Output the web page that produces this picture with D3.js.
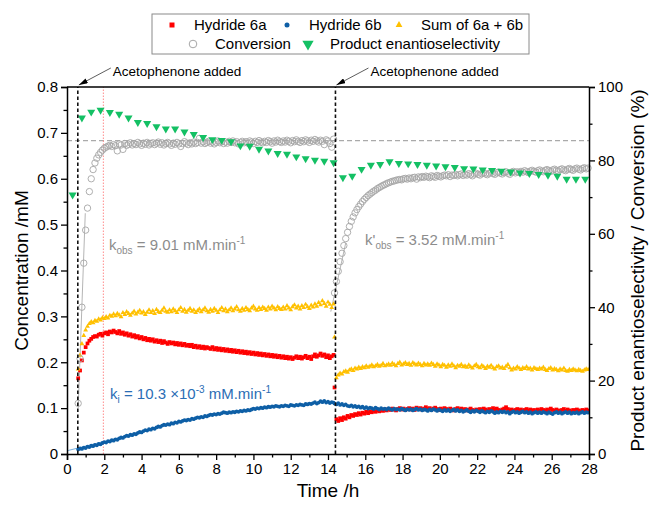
<!DOCTYPE html>
<html>
<head>
<meta charset="utf-8">
<script src="https://cdn.jsdelivr.net/npm/d3@7"></script>
<style>
  body { margin: 0; background: #fff; }
  text { font-family: Arial, "Liberation Sans", sans-serif; }
</style>
</head>
<body>
<svg id="chart" width="651" height="510"></svg>
<script>
////////////////////////////////////////////////////////////////
// Data
// hydride concentrations in mM, conversion / ee in %

// sampling: phase 1 from 0.6 h, phase 2 from 14.35 h, every 0.1 h
let phase1Start = 0.6, phase2Start = 14.35, sampleStep = 0.1;

let hydride6a_1 = [
  .165,.182,.204,.221,.233,.241,.247,.251,.255,.257,
  .256,.260,.262,.258,.263,.265,.261,.267,.265,.269,
  .266,.263,.268,.262,.265,.260,.263,.258,.261,.256,
  .259,.254,.257,.252,.255,.250,.253,.248,.251,.247,
  .250,.245,.248,.244,.247,.242,.246,.243,.240,.244,
  .241,.243,.239,.242,.238,.241,.237,.240,.236,.238,
  .235,.238,.233,.236,.232,.235,.231,.234,.230,.233,
  .231,.229,.233,.228,.231,.227,.230,.226,.229,.225,
  .228,.224,.227,.223,.226,.222,.225,.221,.224,.220,
  .223,.219,.222,.218,.221,.217,.220,.216,.219,.215,
  .218,.214,.217,.213,.216,.212,.215,.211,.214,.210,
  .213,.209,.212,.208,.211,.207,.210,.213,.209,.212,
  .208,.211,.214,.209,.212,.207,.213,.217,.212,.215,
  .219,.214,.217,.211,.215,.209,.213,.216];
let hydride6a_2 = [
  .145,.076,.072,.078,.074,.080,.077,.083,.080,.085,
  .083,.087,.085,.089,.086,.090,.088,.092,.089,.093,
  .091,.094,.092,.095,.093,.096,.094,.097,.095,.098,
  .096,.099,.097,.095,.098,.100,.097,.099,.096,.098,
  .100,.097,.099,.096,.101,.098,.100,.097,.099,.102,
  .098,.100,.097,.099,.101,.098,.096,.099,.097,.100,
  .098,.096,.099,.097,.095,.098,.100,.097,.099,.096,
  .098,.095,.097,.099,.096,.094,.097,.095,.098,.096,
  .099,.097,.095,.098,.096,.100,.097,.099,.096,.094,
  .097,.099,.102,.098,.095,.097,.094,.096,.098,.095,
  .097,.093,.096,.098,.095,.097,.094,.096,.093,.097,
  .095,.098,.096,.094,.097,.095,.099,.096,.094,.097,
  .095,.093,.096,.098,.094,.097,.095,.093,.096,.094,
  .097,.095,.093,.096,.094,.097,.095];

let hydride6b_1 = [
  .010,.012,.011,.014,.013,.016,.015,.018,.017,.020,
  .019,.022,.021,.024,.026,.025,.028,.027,.030,.029,
  .032,.031,.034,.036,.035,.038,.040,.039,.042,.041,
  .044,.043,.046,.048,.047,.050,.052,.051,.054,.053,
  .056,.055,.058,.060,.059,.062,.064,.063,.065,.064,
  .067,.066,.069,.068,.071,.070,.072,.074,.073,.075,
  .074,.077,.076,.078,.080,.079,.081,.080,.083,.082,
  .084,.086,.085,.087,.086,.088,.087,.089,.091,.090,
  .089,.091,.090,.092,.091,.093,.092,.094,.093,.095,
  .094,.096,.095,.097,.099,.098,.100,.099,.101,.100,
  .102,.101,.103,.102,.104,.103,.105,.104,.103,.105,
  .104,.106,.105,.104,.107,.106,.105,.107,.106,.108,
  .107,.106,.109,.108,.110,.109,.111,.113,.110,.112,
  .115,.113,.116,.112,.114,.111,.113,.112];
let hydride6b_2 = [
  .110,.108,.111,.107,.109,.106,.108,.105,.104,.106,
  .103,.105,.102,.104,.101,.103,.100,.102,.099,.101,
  .100,.098,.101,.099,.097,.100,.098,.099,.097,.100,
  .098,.096,.099,.097,.098,.096,.099,.097,.095,.098,
  .096,.098,.095,.097,.099,.096,.098,.095,.097,.096,
  .094,.097,.095,.098,.096,.094,.097,.095,.093,.096,
  .094,.096,.093,.095,.097,.094,.096,.093,.095,.092,
  .094,.096,.093,.091,.094,.092,.095,.093,.091,.094,
  .092,.090,.093,.091,.094,.092,.089,.092,.090,.093,
  .091,.093,.090,.092,.088,.091,.093,.090,.092,.089,
  .091,.093,.090,.092,.089,.091,.088,.090,.092,.089,
  .091,.089,.092,.090,.088,.091,.089,.087,.090,.092,
  .089,.091,.088,.090,.092,.089,.091,.088,.090,.089,
  .091,.088,.090,.092,.089,.091,.090];

let sum_1 = [
  .185,.215,.240,.258,.270,.278,.284,.288,.286,.291,
  .289,.294,.292,.297,.295,.299,.296,.302,.300,.305,
  .301,.306,.303,.299,.308,.304,.310,.306,.302,.307,
  .311,.305,.309,.313,.307,.310,.304,.309,.314,.308,
  .312,.306,.315,.310,.308,.313,.318,.311,.309,.314,
  .310,.316,.312,.308,.314,.319,.311,.315,.309,.313,
  .317,.311,.314,.308,.312,.316,.310,.314,.318,.312,
  .309,.315,.311,.317,.313,.308,.314,.319,.312,.316,
  .310,.314,.318,.312,.316,.321,.314,.311,.317,.313,
  .319,.315,.312,.318,.322,.316,.313,.319,.315,.320,
  .317,.313,.320,.316,.322,.318,.314,.321,.317,.315,
  .320,.316,.323,.318,.314,.321,.325,.318,.322,.316,
  .323,.319,.326,.321,.317,.324,.320,.327,.322,.330,
  .325,.334,.328,.322,.331,.326,.319,.327];
let sum_2 = [
  .255,.166,.172,.176,.174,.179,.181,.178,.183,.185,
  .182,.187,.185,.189,.186,.190,.188,.192,.189,.191,
  .194,.190,.192,.195,.191,.193,.197,.192,.194,.196,
  .193,.198,.195,.192,.197,.200,.194,.196,.199,.195,
  .197,.193,.199,.196,.194,.198,.195,.192,.197,.194,
  .196,.193,.198,.195,.191,.196,.194,.190,.195,.193,
  .189,.194,.191,.196,.192,.188,.193,.191,.195,.190,
  .192,.189,.194,.190,.187,.192,.195,.190,.188,.193,
  .190,.186,.191,.189,.193,.188,.185,.190,.192,.187,
  .189,.186,.191,.195,.188,.183,.187,.185,.190,.187,
  .184,.188,.186,.190,.185,.187,.183,.188,.186,.184,
  .187,.185,.189,.184,.182,.186,.188,.183,.186,.184,
  .181,.185,.183,.187,.182,.180,.184,.182,.185,.183,
  .181,.184,.182,.180,.183,.185,.184];

let conversion_1 = [
  13.8,26.0,40.0,52.0,61.0,67.0,71.5,75.0,77.5,79.3,
  80.6,81.5,82.2,82.8,83.3,83.6,83.9,84.1,83.8,84.3,
  84.0,82.6,84.5,84.2,83.0,84.6,84.1,84.4,84.8,84.2,
  84.6,84.3,84.9,84.5,84.1,84.7,84.4,84.9,84.2,84.6,
  84.8,84.3,84.7,85.0,84.4,84.8,84.2,84.6,84.9,84.5,
  84.1,84.7,84.4,84.9,84.5,83.8,84.6,85.1,84.7,84.3,
  84.8,84.5,85.0,84.6,84.9,86.0,84.7,85.1,84.6,84.9,
  85.2,84.7,85.0,84.5,84.9,85.3,84.8,85.1,84.6,85.0,
  84.7,85.2,84.9,85.3,84.8,85.1,84.5,84.9,85.2,84.8,
  85.1,84.7,85.3,85.0,84.6,85.2,84.9,85.4,85.0,84.8,
  85.2,84.9,85.4,85.1,84.7,85.3,85.0,85.5,85.1,84.9,
  85.3,85.0,85.5,85.2,84.8,85.4,85.1,85.6,85.2,84.9,
  85.4,85.1,85.6,85.3,84.9,85.5,85.2,85.7,85.3,85.0,
  85.5,85.2,84.3,85.6,85.3,84.6,83.6,85.8];
let conversion_2 = [
  43.9,47.0,49.8,52.4,54.7,56.8,58.7,60.4,62.0,63.4,
  64.6,65.7,66.6,67.4,68.1,68.8,69.4,69.9,70.4,70.8,
  71.2,71.6,71.9,72.3,72.6,72.9,73.2,73.4,73.7,73.9,
  74.1,74.3,74.4,74.6,74.7,74.8,74.7,75.0,75.1,74.9,
  75.2,75.0,75.3,75.4,74.9,75.5,75.3,75.6,75.4,75.7,
  75.5,75.3,75.8,75.6,75.4,75.9,75.7,75.5,75.8,76.0,
  75.8,76.1,75.6,76.0,75.9,76.2,75.8,76.1,76.3,75.9,
  76.2,76.0,76.4,76.1,75.8,76.3,76.5,76.2,76.0,76.4,
  76.6,76.3,76.1,76.5,76.7,76.4,76.2,76.6,76.8,76.5,
  76.3,76.7,76.9,76.5,76.2,76.8,77.0,76.6,76.9,76.7,
  77.0,76.8,77.2,76.9,76.7,77.1,77.3,77.0,76.8,77.2,
  77.4,77.1,76.9,77.3,77.5,77.2,77.0,77.4,77.6,77.3,
  77.1,77.5,77.7,77.4,77.2,77.6,77.8,77.5,77.3,77.7,
  77.9,77.6,77.4,77.8,78.0,77.7,77.9];

// product ee, every 0.5 h from 0.3 h
let eeTime = [0.3,0.8,1.3,1.8,2.3,2.8,3.3,3.8,4.3,4.8,5.3,5.8,6.3,6.8,7.3,7.8,8.3,8.8,9.3,9.8,
  10.3,10.8,11.3,11.8,12.3,12.8,13.3,13.8,14.3,
  14.8,15.3,15.8,16.3,16.8,17.3,17.8,18.3,18.8,19.3,19.8,20.3,20.8,21.3,21.8,22.3,22.8,
  23.3,23.8,24.3,24.8,25.3,25.8,26.3,26.8,27.3,27.8];
let eeValue = [70.6,91.6,93.2,93.7,93.1,92.6,91.6,90.4,90.1,89.2,88.6,88.6,87.8,87.1,86.3,85.7,
  85.5,85.1,84.0,83.9,83.1,82.6,81.9,81.7,81.0,80.5,80.1,79.8,79.4,
  75.3,75.7,77.6,78.7,78.9,79.7,79.2,79.1,78.9,78.7,78.5,78.3,78.1,77.8,77.7,77.4,77.3,
  77.1,76.9,76.6,76.5,76.2,76.0,75.7,74.9,74.9,74.9];

// fits, reference lines and events
let kobsFit1 = [[0.6, 12.5], [0.98, 65.6]];      // conversion %
let kobsFit2 = [[14.15, 38.8], [14.95, 57.5]];   // conversion %
let kiFit = [[0, 0.007], [7.9, 0.088]];          // mM
let additionTimes = [0.58, 14.4];
let fitEndTime = 1.95;
let plateauConversion = 85.4;

let xTicks = d3.range(0, 29, 2);
let xMinor = d3.range(1, 28, 2);
let yTicks = [0, 0.1, 0.2, 0.3, 0.4, 0.5, 0.6, 0.7, 0.8];
let yMinor = [0.05, 0.15, 0.25, 0.35, 0.45, 0.55, 0.65, 0.75];
let y2Ticks = [0, 20, 40, 60, 80, 100];
let y2Minor = [10, 30, 50, 70, 90];

////////////////////////////////////////////////////////////////
// build point tables

function toPoints(start, values) {
  return values.map((v, i) => [start + i * sampleStep, v]);
}

let red = toPoints(phase1Start, hydride6a_1).concat(toPoints(phase2Start, hydride6a_2));
let blue = toPoints(phase1Start, hydride6b_1).concat(toPoints(phase2Start, hydride6b_2));
let yellow = toPoints(phase1Start, sum_1).concat(toPoints(phase2Start, sum_2));
let conv = toPoints(phase1Start, conversion_1).concat(toPoints(phase2Start, conversion_2));
let ee = eeTime.map((t, i) => [t, eeValue[i]]);

////////////////////////////////////////////////////////////////
// scales

let pLeft = 67, pRight = 589, pTop = 87, pBottom = 454;

let xScale = d3.scaleLinear().domain([0, 28]).range([pLeft, pRight]);
let yScale = d3.scaleLinear().domain([0, 0.8]).range([pBottom, pTop]);
let y2Scale = d3.scaleLinear().domain([0, 100]).range([pBottom, pTop]);

let svg = d3.select("#chart");

let cRed = "#ff0000", cBlue = "#0e5fa6", cYellow = "#ffc000",
    cGreen = "#14c064", cGray = "#a6a6a6";

////////////////////////////////////////////////////////////////
// reference lines

svg.append("line")
  .attr("x1", pLeft).attr("x2", pRight)
  .attr("y1", y2Scale(plateauConversion)).attr("y2", y2Scale(plateauConversion))
  .attr("stroke", "#aaaaaa").attr("stroke-width", 1.2)
  .attr("stroke-dasharray", "5,3");

svg.append("line")
  .attr("x1", xScale(fitEndTime)).attr("x2", xScale(fitEndTime))
  .attr("y1", pBottom).attr("y2", pTop)
  .attr("stroke", "#ff8c8c").attr("stroke-width", 1)
  .attr("stroke-dasharray", "1.5,1.5");

// fit lines
let line = d3.line();
svg.append("path")
  .attr("d", line(kiFit.map(p => [xScale(p[0]), yScale(p[1])])))
  .attr("stroke", "#7ab0dd").attr("stroke-width", 1).attr("fill", "none");

[kobsFit1, kobsFit2].forEach(f => {
  svg.append("path")
    .attr("d", line(f.map(p => [xScale(p[0]), y2Scale(p[1])])))
    .attr("stroke", "#b5b5b5").attr("stroke-width", 1).attr("fill", "none");
});

////////////////////////////////////////////////////////////////
// markers

let sym = (type, size) => d3.symbol().type(type).size(size)();

svg.append("g").selectAll("path")
  .data(red).enter().append("path")
  .attr("d", sym(d3.symbolSquare, 14))
  .attr("transform", p => `translate(${xScale(p[0])},${yScale(p[1])})`)
  .attr("fill", cRed);

svg.append("g").selectAll("circle")
  .data(blue).enter().append("circle")
  .attr("cx", p => xScale(p[0])).attr("cy", p => yScale(p[1]))
  .attr("r", 1.9).attr("fill", cBlue);

svg.append("g").selectAll("path")
  .data(yellow).enter().append("path")
  .attr("d", sym(d3.symbolTriangle, 10))
  .attr("transform", p => `translate(${xScale(p[0])},${yScale(p[1])})`)
  .attr("fill", cYellow);

svg.append("g").selectAll("circle")
  .data(conv).enter().append("circle")
  .attr("cx", p => xScale(p[0])).attr("cy", p => y2Scale(p[1]))
  .attr("r", 3.2).attr("fill", "none")
  .attr("stroke", cGray).attr("stroke-width", 0.9);

svg.append("g").selectAll("path")
  .data(ee).enter().append("path")
  .attr("d", sym(d3.symbolTriangle, 28))
  .attr("transform", p => `translate(${xScale(p[0])},${y2Scale(p[1])}) rotate(180)`)
  .attr("fill", cGreen);

// event lines
svg.append("g").selectAll("line")
  .data(additionTimes).enter().append("line")
  .attr("x1", t => xScale(t)).attr("x2", t => xScale(t))
  .attr("y1", pBottom).attr("y2", pTop)
  .attr("stroke", "#111").attr("stroke-width", 1.6)
  .attr("stroke-dasharray", "3.5,2.5");

////////////////////////////////////////////////////////////////
// axes

function styleAxis(g) {
  g.selectAll(".domain").attr("stroke-width", 1.5);
  g.selectAll(".tick line").attr("stroke-width", 1.3);
  g.selectAll("text").attr("font-size", 15)
    .attr("font-family", "Arial, 'Liberation Sans', sans-serif").attr("fill", "#000");
}

svg.append("g").attr("transform", `translate(0,${pBottom})`)
  .call(d3.axisBottom(xScale).tickValues(xTicks).tickSize(6).tickPadding(3).tickFormat(d3.format("d")))
  .call(styleAxis);
svg.append("g").attr("transform", `translate(0,${pBottom})`)
  .call(d3.axisBottom(xScale).tickValues(xMinor).tickSize(3.5).tickFormat(""))
  .call(g => g.select(".domain").remove()).call(styleAxis);

svg.append("g").attr("transform", `translate(${pLeft},0)`)
  .call(d3.axisLeft(yScale).tickValues(yTicks).tickSize(6).tickPadding(3)
    .tickFormat(d => d === 0 ? "0" : d3.format(".1f")(d)))
  .call(styleAxis);
svg.append("g").attr("transform", `translate(${pLeft},0)`)
  .call(d3.axisLeft(yScale).tickValues(yMinor).tickSize(3.5).tickFormat(""))
  .call(g => g.select(".domain").remove()).call(styleAxis);

svg.append("g").attr("transform", `translate(${pRight},0)`)
  .call(d3.axisRight(y2Scale).tickValues(y2Ticks).tickSize(6).tickPadding(3))
  .call(styleAxis);
svg.append("g").attr("transform", `translate(${pRight},0)`)
  .call(d3.axisRight(y2Scale).tickValues(y2Minor).tickSize(3.5).tickFormat(""))
  .call(g => g.select(".domain").remove()).call(styleAxis);

svg.append("line")
  .attr("x1", pLeft).attr("x2", pRight).attr("y1", pTop).attr("y2", pTop)
  .attr("stroke", "#000").attr("stroke-width", 1.5);

// axis titles
svg.append("text").attr("x", (pLeft + pRight) / 2).attr("y", 497)
  .attr("text-anchor", "middle").attr("font-size", 19).text("Time /h");
svg.append("text")
  .attr("transform", `translate(21,${(pTop + pBottom) / 2}) rotate(-90)`)
  .attr("text-anchor", "middle").attr("dy", "0.35em").attr("font-size", 19)
  .text("Concentration /mM");
svg.append("text")
  .attr("transform", `translate(637,${(pTop + pBottom) / 2}) rotate(-90)`)
  .attr("text-anchor", "middle").attr("dy", "0.35em").attr("font-size", 19)
  .text("Product enantioselectivity / Conversion (%)");

////////////////////////////////////////////////////////////////
// annotations

let defs = svg.append("defs");
defs.append("marker").attr("id", "arrow")
  .attr("viewBox", "0 0 10 6").attr("refX", 10).attr("refY", 3)
  .attr("markerWidth", 9).attr("markerHeight", 5.5)
  .attr("markerUnits", "userSpaceOnUse").attr("orient", "auto")
  .append("path").attr("d", "M0,0 L10,3 L0,6 Z").attr("fill", "#000");

additionTimes.forEach(t => {
  let x0 = xScale(t);
  svg.append("line")
    .attr("x1", x0 + 33).attr("y1", 68).attr("x2", x0 + 1).attr("y2", 85)
    .attr("stroke", "#333").attr("stroke-width", 0.8)
    .attr("marker-end", "url(#arrow)");
  svg.append("text").attr("x", x0 + 35).attr("y", 76)
    .attr("font-size", 13.5).text("Acetophenone added");
});

function rateLabel(x, y, color, prefix, sub, rest, sup) {
  let t = svg.append("text").attr("x", x).attr("y", y)
    .attr("font-size", 15).attr("fill", color);
  t.append("tspan").text(prefix);
  t.append("tspan").attr("font-size", 10).attr("dy", 4).text(sub);
  t.append("tspan").attr("dy", -4).text(rest);
  t.append("tspan").attr("font-size", 10).attr("dy", -6).text(sup);
}

rateLabel(109, 250, "#8c8c8c", "k", "obs", " = 9.01 mM.min", "-1");
rateLabel(365, 245, "#8c8c8c", "k'", "obs", " = 3.52 mM.min", "-1");
{
  let t = svg.append("text").attr("x", 110).attr("y", 399)
    .attr("font-size", 15).attr("fill", "#2a6db5");
  t.append("tspan").text("k");
  t.append("tspan").attr("font-size", 10).attr("dy", 4).text("i");
  t.append("tspan").attr("dy", -4).text(" = 10.3 \u00d710");
  t.append("tspan").attr("font-size", 10).attr("dy", -6).text("-3");
  t.append("tspan").attr("dy", 6).text(" mM.min");
  t.append("tspan").attr("font-size", 10).attr("dy", -6).text("-1");
}

////////////////////////////////////////////////////////////////
// legend

let legend = svg.append("g");
legend.append("rect").attr("x", 152).attr("y", 14).attr("width", 377).attr("height", 40)
  .attr("fill", "#fff").attr("stroke", "#8a8a8a").attr("stroke-width", 1);

let legendItems = [
  { x: 172, y: 25, label: "Hydride 6a", draw: g => g.append("path").attr("d", sym(d3.symbolSquare, 25)).attr("fill", cRed) },
  { x: 287, y: 25, label: "Hydride 6b", draw: g => g.append("circle").attr("r", 2.5).attr("fill", cBlue) },
  { x: 399, y: 25, label: "Sum of 6a + 6b", draw: g => g.append("path").attr("d", sym(d3.symbolTriangle, 20)).attr("fill", cYellow) },
  { x: 193, y: 44, label: "Conversion", draw: g => g.append("circle").attr("r", 3.8).attr("fill", "none").attr("stroke", cGray).attr("stroke-width", 1) },
  { x: 308, y: 44, label: "Product enantioselectivity", draw: g => g.append("path").attr("d", sym(d3.symbolTriangle, 55)).attr("transform", "rotate(180)").attr("fill", cGreen) }
];

legendItems.forEach(it => {
  let g = legend.append("g").attr("transform", `translate(${it.x},${it.y})`);
  it.draw(g);
  legend.append("text").attr("x", it.x + 22).attr("y", it.y).attr("dy", "0.35em")
    .attr("font-size", 15).text(it.label);
});
</script>
</body>
</html>
